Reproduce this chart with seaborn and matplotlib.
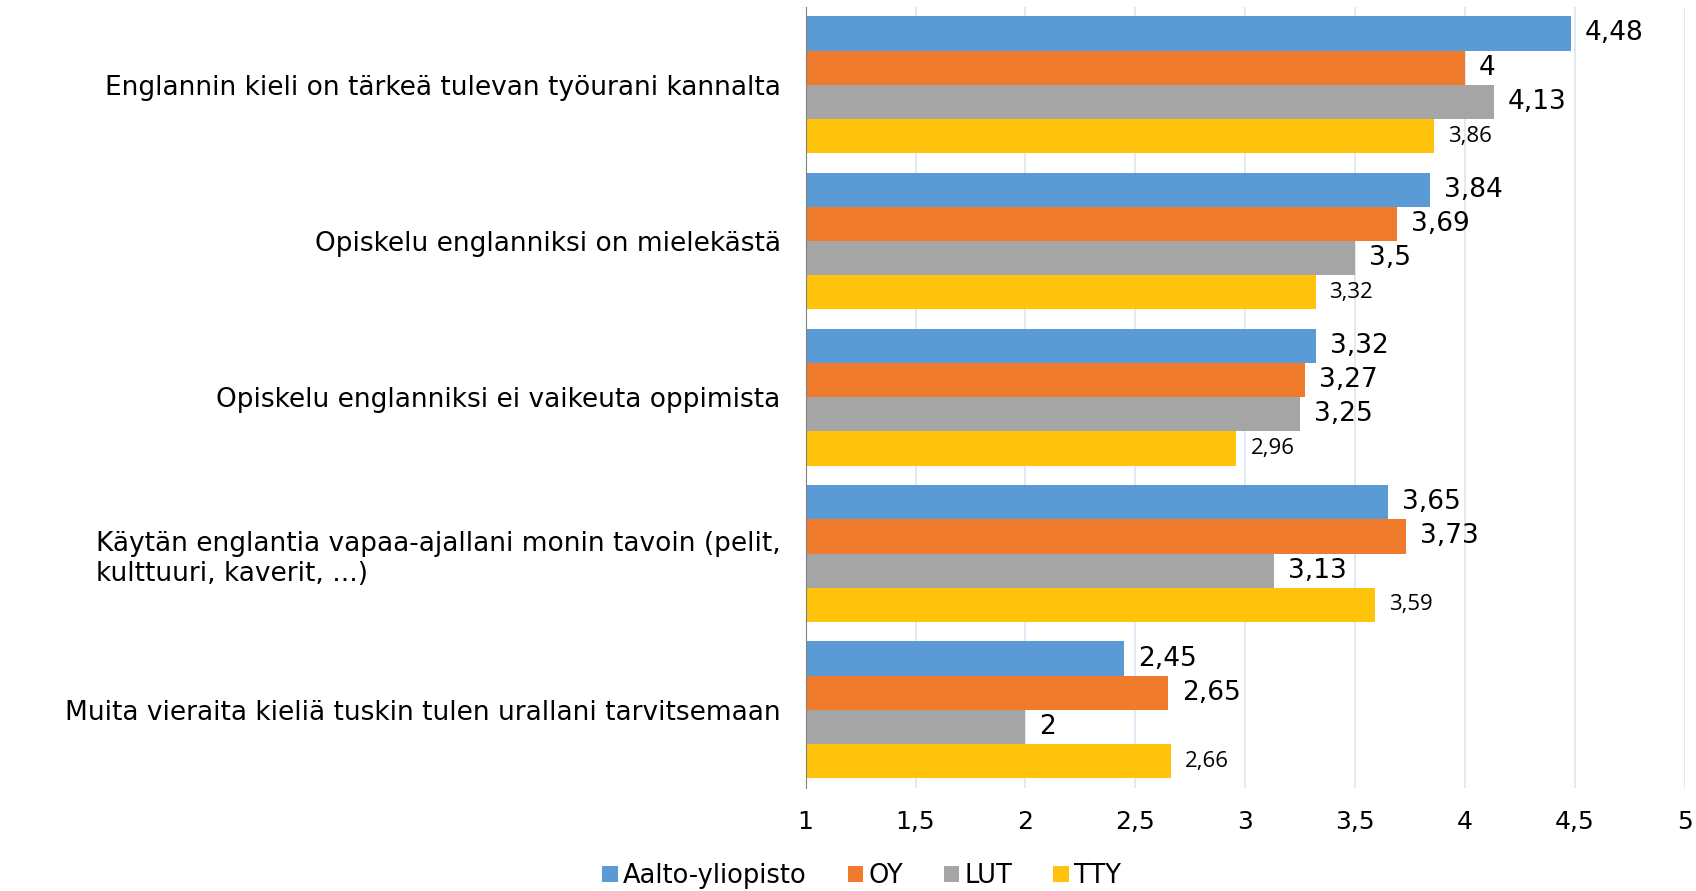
import matplotlib.pyplot as plt
import pandas as pd
import seaborn as sns

# Statements (y categories) and universities (series)
statements = [
    "Englannin kieli on tärkeä tulevan työurani kannalta",
    "Opiskelu englanniksi on mielekästä",
    "Opiskelu englanniksi ei vaikeuta oppimista",
    "Käytän englantia vapaa-ajallani monin tavoin (pelit,\nkulttuuri, kaverit, ...)",
    "Muita vieraita kieliä tuskin tulen urallani tarvitsemaan",
]
universities = ["Aalto-yliopisto", "OY", "LUT", "TTY"]

aalto = [4.48, 3.84, 3.32, 3.65, 2.45]
oy = [4.00, 3.69, 3.27, 3.73, 2.65]
lut = [4.13, 3.50, 3.25, 3.13, 2.00]
tty = [3.86, 3.32, 2.96, 3.59, 2.66]

x_ticks = [1, 1.5, 2, 2.5, 3, 3.5, 4, 4.5, 5]
x_tick_labels = ["1", "1,5", "2", "2,5", "3", "3,5", "4", "4,5", "5"]

colors = ["#5B9BD5", "#F07B2C", "#A5A5A5", "#FEC30A"]

rows = []
for uni, vals in zip(universities, [aalto, oy, lut, tty]):
    for s, v in zip(statements, vals):
        rows.append({"Väittämä": s, "Yliopisto": uni, "Arvo": v})
df = pd.DataFrame(rows)

sns.set_style("white")
plt.rcParams["font.family"] = ["DejaVu Sans"]
plt.rcParams["text.color"] = "black"
plt.rcParams["xtick.color"] = "black"
plt.rcParams["ytick.color"] = "black"

fig = plt.figure(figsize=(16.96, 8.91), dpi=100)
ax = fig.add_axes([0.475, 0.1156, 0.5185, 0.877])

sns.barplot(
    data=df,
    y="Väittämä",
    x="Arvo",
    hue="Yliopisto",
    order=statements,
    hue_order=universities,
    palette=colors,
    orient="h",
    width=0.875,
    saturation=1,
    edgecolor="none",
    ax=ax,
)

ax.set_xlim(1, 5)
ax.set_ylim(4.5, -0.5)
ax.set_xticks(x_ticks)
ax.set_xticklabels(x_tick_labels, fontsize=18)
ax.tick_params(axis="x", length=0, pad=16)
ax.tick_params(axis="y", length=0, pad=18, labelsize=19)
for lbl in ax.get_yticklabels():
    lbl.set_multialignment("left")
ax.set_xlabel("")
ax.set_ylabel("")
ax.xaxis.grid(True, color="#DCE6F2", linewidth=1.2)
ax.set_axisbelow(True)
for side in ["top", "right", "bottom"]:
    ax.spines[side].set_visible(False)
ax.spines["left"].set_color("#808080")

# value labels
for i, cont in enumerate(ax.containers):
    labels = [f"{v:g}".replace(".", ",") for v in cont.datavalues]
    if i == 3:
        ax.bar_label(cont, labels=labels, padding=10, fontsize=16,
                     color="black", family=["Open Sans", "DejaVu Sans"])
    else:
        ax.bar_label(cont, labels=labels, padding=10, fontsize=19,
                     color="black")

handles, labs = ax.get_legend_handles_labels()
ax.get_legend().remove()
fig.legend(handles, labs, loc="center", bbox_to_anchor=(0.508, 0.017),
           ncol=4, frameon=False, fontsize=18.5, handlelength=0.6,
           handleheight=0.6, handletextpad=0.2, columnspacing=1.6)

fig.savefig("out.png", dpi=100)
